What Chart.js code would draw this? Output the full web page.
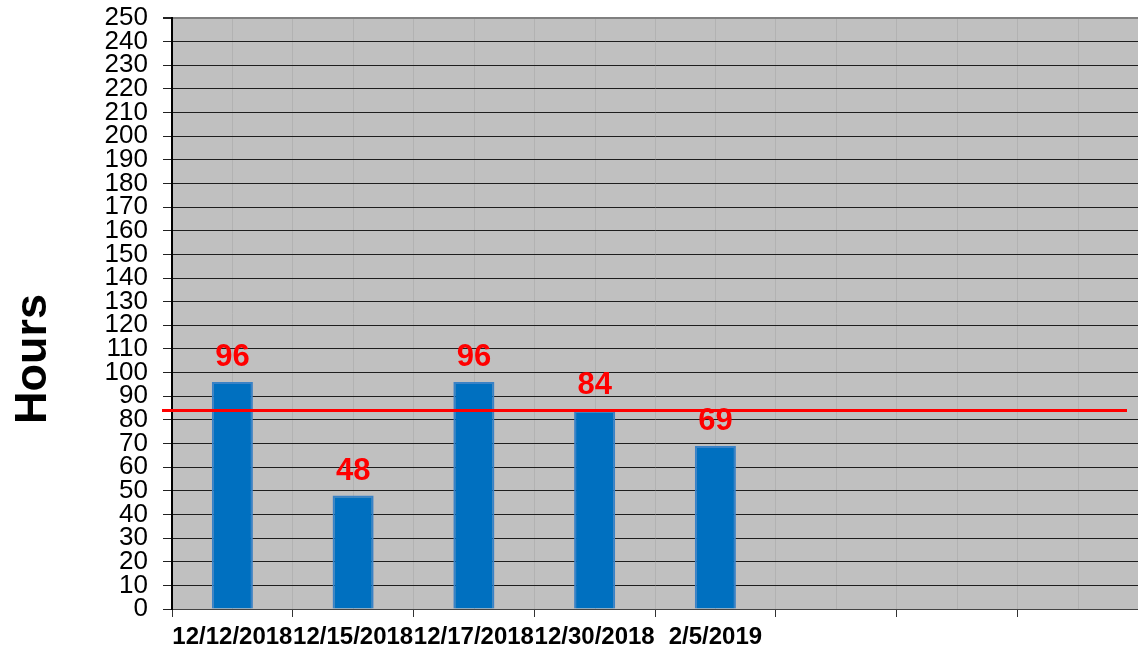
<!DOCTYPE html>
<html>
<head>
<meta charset="utf-8">
<script src="https://cdn.jsdelivr.net/npm/chart.js@4"></script>
<style>
  body { margin: 0; background: #fff; overflow: hidden; }
</style>
</head>
<body>
<canvas id="horas" width="1138" height="652"></canvas>
<script>
// fechas (las ultimas 3 columnas van vacias)
var fechas = ['12/12/2018', '12/15/2018', '12/17/2018', '12/30/2018', '2/5/2019', '', '', ''];
var horas = [96, 48, 96, 84, 69, null, null, null];
var meta_horas = 84;
var yTicks = [0, 250, 10]; // min, max, paso

// fondo gris del area
var fondoGris = {
  id: 'fondoGris',
  beforeDraw: function (chart) {
    var a = chart.chartArea, ctx = chart.ctx;
    ctx.save();
    ctx.fillStyle = '#c0c0c0';
    ctx.fillRect(a.left, a.top, a.right - a.left, a.bottom - a.top);
    // lineas verticales al centro de cada categoria
    var xs = chart.scales.x;
    ctx.strokeStyle = '#b2b2b2';
    ctx.lineWidth = 1;
    for (var i = 0; i < fechas.length; i++) {
      var px = Math.round(xs.getPixelForValue(i)) + 0.5;
      ctx.beginPath();
      ctx.moveTo(px, a.top);
      ctx.lineTo(px, a.bottom);
      ctx.stroke();
    }
    ctx.restore();
  }
};

// linea roja de meta, numeros rojos y titulo "Hours"
var extras = {
  id: 'extras',
  afterDatasetsDraw: function (chart) {
    var ctx = chart.ctx, a = chart.chartArea;
    var y = chart.scales.y.getPixelForValue(meta_horas);
    ctx.save();
    ctx.strokeStyle = '#ff0000';
    ctx.lineWidth = 3;
    ctx.beginPath();
    ctx.moveTo(a.left - 10, y);
    ctx.lineTo(a.right - 11, y);
    ctx.stroke();

    var barras = chart.getDatasetMeta(0).data;
    ctx.fillStyle = '#ff0000';
    ctx.font = 'bold 31px "Liberation Sans", Arial, sans-serif';
    ctx.textAlign = 'center';
    ctx.textBaseline = 'alphabetic';
    barras.forEach(function (b, i) {
      if (horas[i] == null) return;
      ctx.fillText(String(horas[i]), b.x, b.y - 16);
    });

    ctx.fillStyle = '#000';
    ctx.font = 'bold 45px "Liberation Sans", Arial, sans-serif';
    ctx.translate(46, 359);
    ctx.rotate(-Math.PI / 2);
    ctx.fillText('Hours', 0, 0);
    ctx.restore();
  }
};

var Horas = new Chart(document.getElementById('horas'), {
  type: 'bar',
  data: {
    labels: fechas,
    datasets: [{
      data: horas,
      backgroundColor: '#0070c0',
      borderColor: '#3a82c6',
      borderWidth: 2,
      barPercentage: 0.34,
      categoryPercentage: 1
    }]
  },
  options: {
    responsive: false,
    animation: false,
    layout: { padding: { top: 18, left: 0, right: 0, bottom: 0 } },
    plugins: { legend: { display: false }, tooltip: { enabled: false } },
    scales: {
      x: {
        offset: true,
        afterFit: function (s) { s.height = 43; s.paddingLeft = 0; s.paddingRight = 0; },
        grid: { color: '#b2b2b2', tickColor: '#333', tickLength: 8, offset: true },
        border: { color: '#444', width: 1 },
        ticks: {
          autoSkip: false, maxRotation: 0, minRotation: 0, padding: 6,
          color: '#000',
          font: { family: '"Liberation Sans", Arial, sans-serif', size: 24, weight: 'bold' }
        }
      },
      y: {
        min: yTicks[0], max: yTicks[1],
        afterFit: function (s) { s.width = 172; s.paddingTop = 0; s.paddingBottom = 0; },
        grid: {
          color: function (c) { return c.tick && c.tick.value === yTicks[1] ? '#808080' : '#1e1e1e'; },
          lineWidth: function (c) { return c.tick && c.tick.value === yTicks[1] ? 2 : 1; },
          tickColor: '#222', tickLength: 9
        },
        border: { color: '#000', width: 2 },
        ticks: {
          stepSize: yTicks[2], autoSkip: false, padding: 15, color: '#000',
          font: { family: '"Liberation Sans", Arial, sans-serif', size: 26, lineHeight: 1 }
        }
      }
    }
  },
  plugins: [fondoGris, extras]
});
</script>
</body>
</html>
